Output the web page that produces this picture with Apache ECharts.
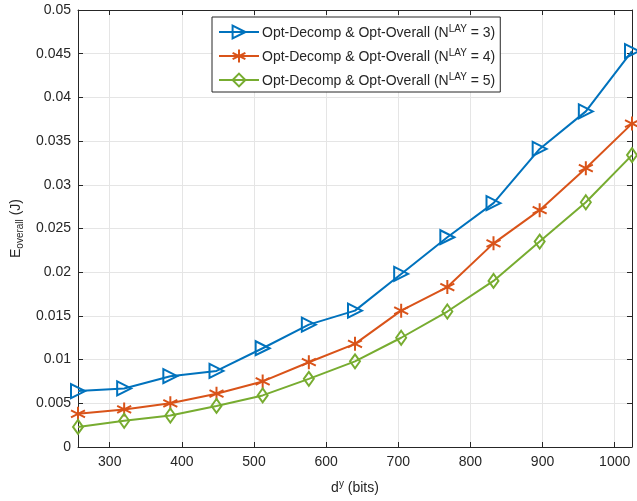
<!DOCTYPE html>
<html>
<head>
<meta charset="utf-8">
<script src="https://cdn.jsdelivr.net/npm/echarts@6/dist/echarts.min.js"></script>
<style>
  html, body { margin: 0; padding: 0; background: #fff; }
  #main { width: 637px; height: 501px; }
</style>
</head>
<body>
<div id="main"></div>
<script>
// data
var dy = [256, 320, 384, 448, 512, 576, 640, 704, 768, 832, 896, 960, 1024];
var eLay3 = [0.0064, 0.0067, 0.0081, 0.0087, 0.0113, 0.0140, 0.0156, 0.0198, 0.0240, 0.0279, 0.0341, 0.0384, 0.0453];
var eLay4 = [0.0038, 0.0043, 0.0050, 0.0061, 0.0075, 0.0097, 0.0118, 0.0156, 0.0183, 0.0233, 0.0271, 0.0319, 0.0370];
var eLay5 = [0.0023, 0.0030, 0.0036, 0.0047, 0.0059, 0.0078, 0.0098, 0.0125, 0.0155, 0.0190, 0.0235, 0.0280, 0.0334];
var seriesNames = ["lay3", "lay4", "lay5"];
var layNums = ["3", "4", "5"];

var txt = "#262626";
var font = "Liberation Sans, Arial, Helvetica, sans-serif";

function pairs(ys) {
  var out = [];
  for (var i = 0; i < dy.length; i++) out.push([dy[i], ys[i]]);
  return out;
}

var chart = echarts.init(document.getElementById("main"));

var axisCommon = {
  axisLine: { show: true, onZero: false, lineStyle: { color: "#262626", width: 1 } },
  axisTick: { show: true, inside: true, length: 5, lineStyle: { color: "#262626" } }
};

// super/subscript styles for rich text
var supRich = {
  a: { fontSize: 14, fontFamily: font, color: txt, verticalAlign: "bottom", lineHeight: 16 },
  s: { fontSize: 10, fontFamily: font, color: txt, verticalAlign: "top", lineHeight: 16, padding: [0, 0, 7, 0] }
};

function mkSeries(name, ys, color, symbol, rotate, size) {
  return {
    name: name,
    type: "line",
    data: pairs(ys),
    symbol: symbol,
    symbolSize: size,
    symbolRotate: rotate,
    showAllSymbol: true,
    lineStyle: { color: color, width: 2 },
    itemStyle: { color: "rgba(255,255,255,0)", borderColor: color, borderWidth: 2 },
    emphasis: { disabled: true },
    z: 3
  };
}

var asterisk = "path://M5,0L5,10M0.67,2.5L9.33,7.5M0.67,7.5L9.33,2.5";

chart.setOption({
  backgroundColor: "#ffffff",
  animation: false,
  textStyle: { fontFamily: font, color: txt },
  grid: { left: 78, right: 5, top: 10, bottom: 54, containLabel: false },
  legend: {
    orient: "vertical",
    left: 212,
    top: 17,
    padding: [7, 5, 3, 6],
    itemGap: 7,
    itemWidth: 40,
    itemHeight: 16,
    backgroundColor: "#ffffff",
    borderColor: "#262626",
    borderWidth: 1,
    data: seriesNames,
    formatter: function (name) {
      var k = layNums[seriesNames.indexOf(name)];
      return "{a|Opt-Decomp & Opt-Overall (N}{s|LAY}{a| = " + k + ")}";
    },
    textStyle: {
      color: txt,
      fontFamily: font,
      padding: [0, 0, 0, -2],
      rich: supRich
    }
  },
  xAxis: [
    Object.assign({
      type: "value",
      min: 256,
      max: 1024,
      splitNumber: 8,
      position: "bottom",
      name: "{a|d}{s|y}{a| (bits)}",
      nameLocation: "middle",
      nameGap: 32,
      nameTextStyle: { rich: supRich },
      axisLabel: {
        color: txt, fontSize: 14, fontFamily: font, margin: 8,
        showMinLabel: false, showMaxLabel: false,
        formatter: function (v) { return String(v); }
      },
      splitLine: { show: true, lineStyle: { color: "#e5e5e5", width: 1 } }
    }, axisCommon),
    Object.assign({
      type: "value",
      min: 256,
      max: 1024,
      splitNumber: 8,
      position: "top",
      axisLabel: { show: false },
      splitLine: { show: false }
    }, axisCommon)
  ],
  yAxis: [
    Object.assign({
      type: "value",
      min: 0,
      max: 0.05,
      interval: 0.005,
      position: "left",
      name: "{a|E}{s|overall}{a| (J)}",
      nameLocation: "middle",
      nameGap: 52,
      nameRotate: 90,
      nameTextStyle: {
        rich: {
          a: { fontSize: 14, fontFamily: font, color: txt, verticalAlign: "top", lineHeight: 16 },
          s: { fontSize: 10, fontFamily: font, color: txt, verticalAlign: "bottom", lineHeight: 16, padding: [7, 0, 0, 0] }
        }
      },
      axisLabel: { color: txt, fontSize: 14, fontFamily: font, margin: 7 },
      splitLine: { show: true, lineStyle: { color: "#e5e5e5", width: 1 } }
    }, axisCommon),
    Object.assign({
      type: "value",
      min: 0,
      max: 0.05,
      interval: 0.005,
      position: "right",
      axisLabel: { show: false },
      splitLine: { show: false }
    }, axisCommon)
  ],
  series: [
    mkSeries(seriesNames[0], eLay3, "#0072BD", "triangle", -90, 14),
    mkSeries(seriesNames[1], eLay4, "#D95319", asterisk, 0, 14),
    mkSeries(seriesNames[2], eLay5, "#77AC30", "diamond", 0, [10, 14])
  ]
});
</script>
</body>
</html>
